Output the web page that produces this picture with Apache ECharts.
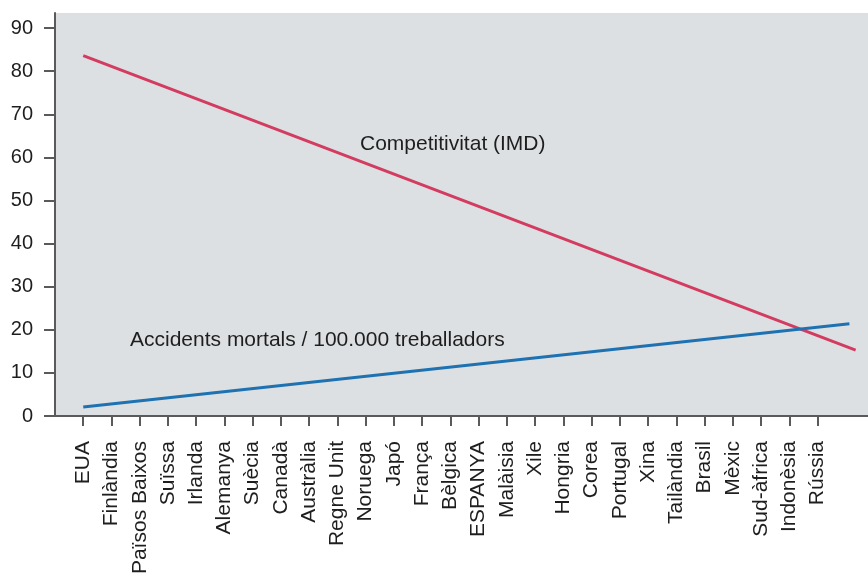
<!DOCTYPE html>
<html>
<head>
<meta charset="utf-8">
<script src="https://cdn.jsdelivr.net/npm/echarts@6/dist/echarts.min.js"></script>
<style>html,body{margin:0;padding:0;background:#fff}#c{width:868px;height:574px}</style>
</head>
<body>
<div id="c"></div>
<script>
// Country categories (tick labels)
const countries = ['EUA','Finlàndia','Països Baixos','Suïssa','Irlanda','Alemanya','Suècia','Canadà','Austràlia','Regne Unit','Noruega','Japó','França','Bèlgica','ESPANYA','Malàisia','Xile','Hongria','Corea','Portugal','Xina','Tailàndia','Brasil','Mèxic','Sud-àfrica','Indonèsia','Rússia'];
// Trend line end points: x in category position units (EUA = 1), y values
const competitivitatX = [1, 28.35];
const competitivitatY = [83.6, 15.3];
const accidentsX = [1, 28.13];
const accidentsY = [2.1, 21.4];
const yTicks = [0,10,20,30,40,50,60,70,80,90];
const labelComp = 'Competitivitat (IMD)';
const labelAcc = 'Accidents mortals / 100.000 treballadors';

const catData = [''].concat(countries, ['', '']);
const FONT = '"Liberation Sans", Arial, Helvetica, sans-serif';
const axisCol = '#5a5a5a';
const textCol = '#1e1e1e';

const chart = echarts.init(document.getElementById('c'), null, {renderer: 'canvas'});
chart.setOption({
  animation: false,
  backgroundColor: '#ffffff',
  grid: {left: 55, width: 819, top: 13, bottom: 158, show: true, backgroundColor: '#dde0e2', borderWidth: 0,
         containLabel: false, outerBoundsMode: 'none'},
  xAxis: [{
    type: 'category',
    data: catData,
    boundaryGap: false,
    axisLine: {show: true, lineStyle: {color: axisCol, width: 2}},
    axisTick: {show: true, length: 10, lineStyle: {color: axisCol, width: 2}, interval: function (i, v) { return v !== ''; }},
    axisLabel: {interval: 0, rotate: 90, margin: 25, fontSize: 21, color: textCol, fontFamily: FONT},
    splitLine: {show: false}
  }, {
    type: 'value', min: 0, max: 29, show: false
  }],
  yAxis: {
    type: 'value', min: 0, max: 93.5, interval: 10,
    axisLine: {show: true, lineStyle: {color: axisCol, width: 2}},
    axisTick: {show: true, length: 11, lineStyle: {color: axisCol, width: 2}, customValues: yTicks},
    axisLabel: {margin: 22, fontSize: 20, color: textCol, fontFamily: FONT, customValues: yTicks,
      formatter: function (v) { return (v % 10 === 0) ? String(v) : ''; }},
    splitLine: {show: false}
  },
  series: [{
    type: 'line', xAxisIndex: 1, symbol: 'none',
    data: competitivitatX.map((x, i) => [x, competitivitatY[i]]),
    lineStyle: {color: '#d33c60', width: 3}
  }, {
    type: 'line', xAxisIndex: 1, symbol: 'none',
    data: accidentsX.map((x, i) => [x, accidentsY[i]]),
    lineStyle: {color: '#1f72b2', width: 3}
  }],
  graphic: [{
    type: 'text', x: 360, y: 144,
    style: {text: labelComp, fontSize: 21, fontFamily: FONT, fill: textCol, verticalAlign: 'middle', align: 'left'}
  }, {
    type: 'text', x: 130, y: 340,
    style: {text: labelAcc, fontSize: 21, fontFamily: FONT, fill: textCol, verticalAlign: 'middle', align: 'left'}
  }]
});
</script>
</body>
</html>
